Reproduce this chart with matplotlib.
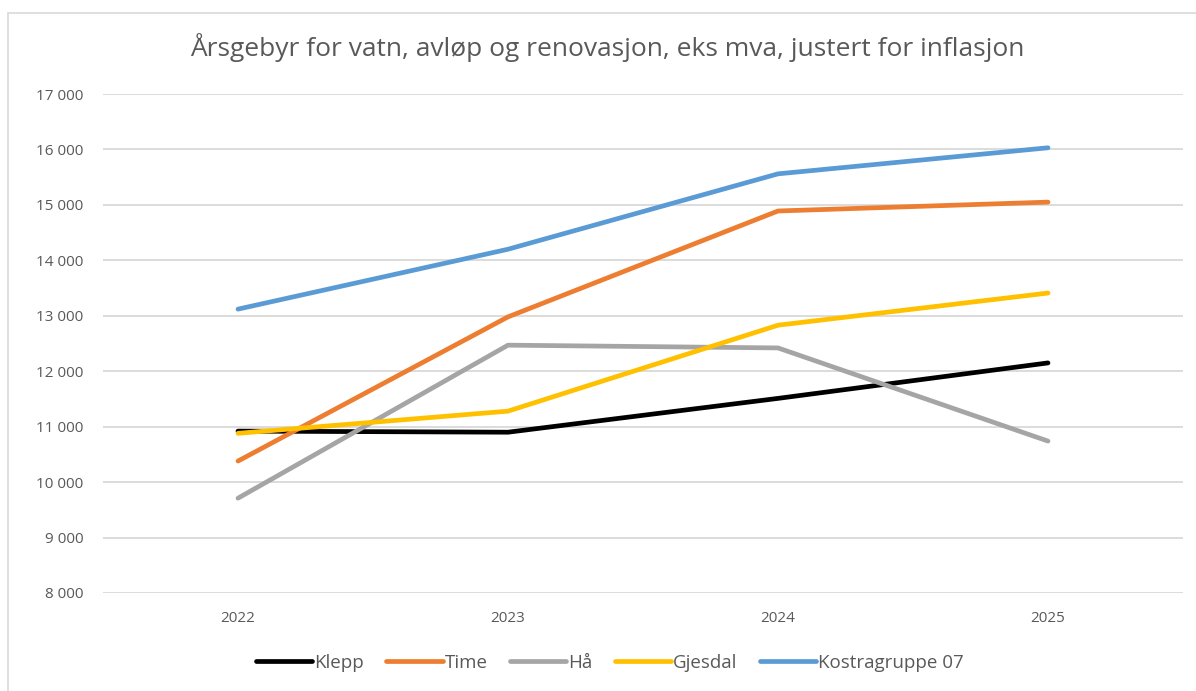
import numpy as np
import matplotlib.pyplot as plt
from matplotlib.patches import Rectangle

plt.rcParams['font.family'] = ['Open Sans', 'DejaVu Sans']

# data
years = ['2022', '2023', '2024', '2025']
klepp = [10920, 10900, 11510, 12150]
time_ = [10380, 12980, 14890, 15050]
haa = [9710, 12470, 12420, 10740]
gjesdal = [10880, 11280, 12830, 13410]
kostra = [13120, 14200, 15560, 16030]

series = [
    ('Klepp', klepp, '#000000'),
    ('Time', time_, '#ED7D31'),
    ('Hå', haa, '#A5A5A5'),
    ('Gjesdal', gjesdal, '#FFC000'),
    ('Kostragruppe 07', kostra, '#5B9BD5'),
]

fig = plt.figure(figsize=(11.96, 6.91), dpi=100)
ax = fig.add_axes([103 / 1196, 1 - 593 / 691, 1080 / 1196, 499 / 691])

x = np.arange(len(years))
for name, vals, col in series:
    ax.plot(x, vals, color=col, linewidth=3.4, label=name, solid_capstyle='round')

ax.set_xlim(-0.5, 3.5)
ax.set_ylim(8000, 17000)
ax.set_yticks(np.arange(8000, 17001, 1000))
ax.set_yticklabels(['{:,}'.format(v).replace(',', ' ') for v in range(8000, 17001, 1000)])
ax.set_xticks(x)
ax.set_xticklabels(years)
ax.grid(axis='y', color='#D9D9D9', linewidth=1.3)
ax.set_axisbelow(True)
for s in ax.spines.values():
    s.set_visible(False)
ax.tick_params(length=0, labelsize=11, colors='#595959', pad=14)
ax.tick_params(axis='x', pad=13)

fig.text(0.508, 1 - 47 / 691, 'Årsgebyr for vatn, avløp og renovasjon, eks mva, justert for inflasjon',
         ha='center', va='center', fontsize=19, color='#595959')

# chart border
fig.patches.append(Rectangle((8 / 1196, -0.01), 1.02, 1 - 13 / 691 + 0.01, transform=fig.transFigure,
                             fill=False, edgecolor='#D9D9D9', linewidth=1.2))

fig.legend(loc='center', bbox_to_anchor=(0.51, 1 - 663 / 691), ncol=5, frameon=False,
           fontsize=13.5, handlelength=3.0, handletextpad=0.1, columnspacing=1.2,
           labelcolor='#595959')

fig.savefig('out.png', dpi=100)
